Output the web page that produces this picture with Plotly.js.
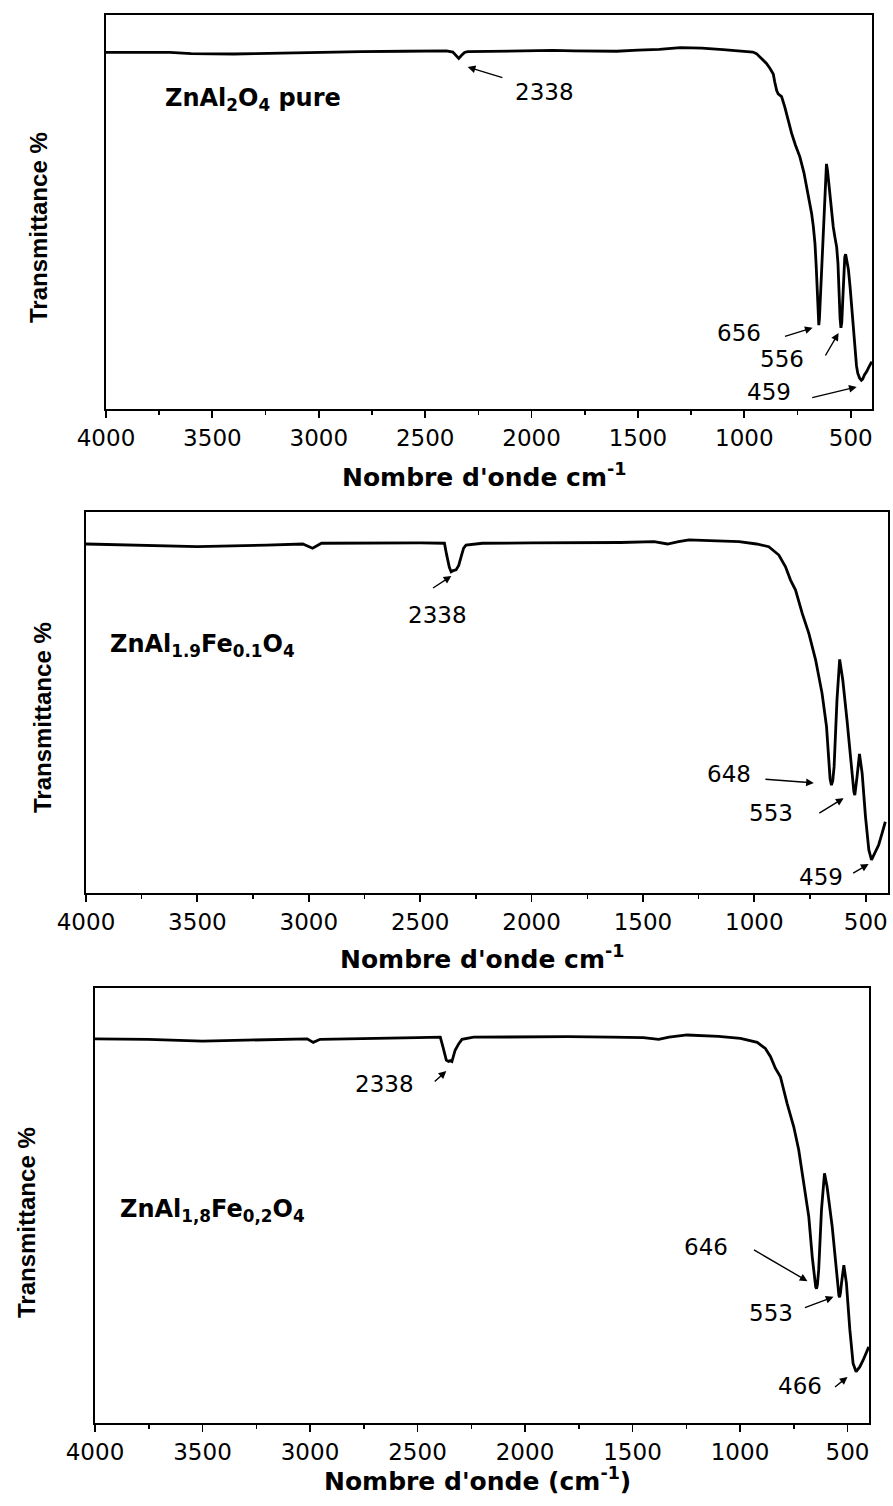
<!DOCTYPE html>
<html>
<head>
<meta charset="utf-8">
<script src="https://cdn.plot.ly/plotly-3.0.1.min.js"></script>
<style>html,body{margin:0;padding:0;background:#fff;}#chart{width:893px;height:1506px;}</style>
</head>
<body>
<div id="chart"></div>
<script>
// ---------- DATA ----------
// Panel 1 : ZnAl2O4 pure
const wn1 = [4000,3850,3700,3600,3500,3400,3300,3150,3000,2800,2600,2450,2400,2370,2355,2342,2330,2315,2300,2200,2100,2000,1900,1800,1700,1600,1500,1400,1300,1200,1100,1000,960,943,920,896,880,864,857,848,841,825,810,795,778,760,739,720,707,695,684,676,668,662,657,653,650,647,643,637,630,624,619,614,609,602,592,582,574,566,560,555,550,546,542,538,533,528,524,519,511,503,495,487,480,473,467,458,450,444,435,425,413,401];
const tr1 = [90.5,90.5,90.5,90.2,90.1,90.1,90.2,90.4,90.6,90.7,90.8,90.9,90.9,90.6,89.8,89.0,89.7,90.5,90.7,90.8,90.9,91.0,91.0,90.9,90.9,90.8,91.1,91.3,91.7,91.6,91.2,90.9,90.6,90.2,89.0,87.7,86.5,85.0,83.0,80.8,80.0,79.3,76.7,73.2,70.0,67.0,64.0,60.0,56.4,53.0,49.7,46.5,42.0,36.0,29.0,23.0,21.3,23.0,28.0,34.0,44.0,54.0,60.0,62.2,60.5,56.3,51.0,46.2,43.5,41.1,37.0,29.0,23.0,20.6,22.0,27.0,34.0,38.5,39.3,38.0,35.5,31.0,25.9,19.5,14.2,11.0,9.1,7.8,7.3,7.6,8.7,9.5,10.8,12.0];

// Panel 2 : ZnAl1.9Fe0.1O4
const wn2 = [4000,3745,3500,3189,3027,2983,2943,2500,2400,2391,2382,2369,2361,2352,2339,2327,2316,2305,2294,2221,2000,1800,1600,1450,1390,1340,1293,1200,1069,990,935,890,860,838,815,785,755,725,696,676,666,660,654,648,642,636,629,617,603,584,569,558,553,549,544,539,528,516,501,486,474,460,442,427,412];
const tr2 = [91.6,91.2,90.9,91.3,91.6,90.5,91.8,91.9,91.9,91.8,89.0,85.5,84.3,84.6,84.8,86.0,88.3,90.5,91.3,91.8,91.9,91.9,92.0,92.2,91.6,92.2,92.7,92.5,92.2,91.6,90.9,88.7,85.6,82.2,79.5,73.4,68.1,61.2,52.4,43.7,34.9,30.0,28.3,29.5,33.1,41.0,50.7,61.3,55.9,45.4,36.7,28.8,26.5,25.7,27.5,30.5,36.5,31.4,20.0,11.3,8.7,10.4,12.6,15.6,18.7];

// Panel 3 : ZnAl1,8Fe0,2O4
const wn3 = [4000,3753,3500,3357,3013,2985,2953,2500,2394,2382,2366,2356,2348,2340,2325,2308,2293,2239,2000,1800,1600,1450,1378,1330,1246,1100,998,920,882,858,835,812,781,750,727,703,680,664,653,648,644,640,634,621,607,595,571,556,545,540,537,533,528,517,505,489,474,466,460,443,427,401];
const tr3 = [88.3,88.2,87.8,87.9,88.3,87.5,88.2,88.6,88.7,86.5,83.4,83.1,83.3,83.1,85.7,87.2,88.2,88.7,88.8,88.8,88.7,88.6,88.2,88.7,89.2,88.9,88.4,87.5,86.1,84.2,81.5,79.6,73.5,68.1,62.8,55.1,47.4,38.2,32.9,31.3,30.9,31.8,35.2,49.0,57.4,54.3,45.1,36.7,30.6,29.3,28.9,29.8,32.1,36.3,32.1,21.4,13.7,12.3,11.8,12.9,14.5,17.5];

const xTickVals = [4000,3500,3000,2500,2000,1500,1000,500];
const xMinorVals = [3750,3250,2750,2250,1750,1250,750];
const sampleNames = ['ZnAl<sub>2</sub>O<sub>4</sub> pure','ZnAl<sub>1.9</sub>Fe<sub>0.1</sub>O<sub>4</sub>','ZnAl<sub>1,8</sub>Fe<sub>0,2</sub>O<sub>4</sub>'];
const xTitles = ["Nombre d'onde cm<sup>-1</sup>","Nombre d'onde cm<sup>-1</sup>","Nombre d'onde (cm<sup>-1</sup>)"];
const yTitle = 'Transmittance %';
const peakLabels1 = ['2338','656','556','459'];
const peakLabels2 = ['2338','648','553','459'];
const peakLabels3 = ['2338','646','553','466'];

// ---------- LAYOUT ----------
const W = 893, H = 1506;
const panels = [
  {x0:106, x1:872, top:15,  bot:409, ytitleX:39, ytitleY:228, xtitleY:476, nameX:163, nameY:100},
  {x0:86,  x1:888, top:512, bot:893, ytitleX:42, ytitleY:718, xtitleY:957, nameX:108, nameY:645},
  {x0:95,  x1:869, top:988, bot:1423,ytitleX:26, ytitleY:1223,xtitleY:1479,nameX:118, nameY:1210}
];
// peak annotation placement (text position, arrow tail, arrow head) in data units
const peakPlacement = [
  [ {t:[1941,80.5], a:[2130,84.0], h:[2300,86.8]},
    {t:[1023,19.3], a:[816,18.3],  h:[679,20.6]},
    {t:[825,12.7],  a:[623,13.2],  h:[557,19.3]},
    {t:[882,4.3],   a:[688,2.8],   h:[472,5.6]} ],
  [ {t:[2423,73.0], a:[2449,79.8], h:[2360,83.2]},
    {t:[1114,31.2], a:[957,29.9],  h:[733,28.9]},
    {t:[926,21.0],  a:[715,20.7],  h:[599,24.9]},
    {t:[702,4.2],   a:[563,5.0],   h:[487,7.6]} ],
  [ {t:[2655,77.9], a:[2427,78.2], h:[2366,80.9]},
    {t:[1156,40.5], a:[942,40.0],  h:[686,32.6]},
    {t:[858,25.3],  a:[705,26.4],  h:[565,29.0]},
    {t:[723,8.5],   a:[565,8.0],   h:[500,10.6]} ]
];
const peakTexts = [peakLabels1, peakLabels2, peakLabels3];
const series = [[wn1,tr1],[wn2,tr2],[wn3,tr3]];

const tickFont = {family:'DejaVu Sans', size:23, color:'#000'};
const data = [];
const layout = {
  width: W, height: H,
  margin: {l:0, r:0, t:0, b:0},
  paper_bgcolor:'#fff', plot_bgcolor:'#fff',
  showlegend:false,
  annotations: []
};

panels.forEach((p, i) => {
  const sfx = i === 0 ? '' : String(i+1);
  const xa = 'x' + sfx, ya = 'y' + sfx;
  data.push({
    x: series[i][0], y: series[i][1],
    xaxis: xa, yaxis: ya,
    type:'scatter', mode:'lines',
    line:{color:'#000', width:2.8},
    hoverinfo:'skip'
  });
  layout['xaxis' + sfx] = {
    domain:[p.x0/W, p.x1/W],
    anchor: ya,
    range:[4000, 400],
    tickvals: xTickVals,
    ticktext: xTickVals.map(String),
    ticks:'outside', ticklen:7, tickwidth:1.8, tickcolor:'#000',
    minor:{tickvals:xMinorVals, ticks:'outside', ticklen:4, tickwidth:1.5, tickcolor:'#000'},
    showline:true, linecolor:'#000', linewidth:2, mirror:true,
    showgrid:false, zeroline:false,
    tickfont: tickFont
  };
  layout['yaxis' + sfx] = {
    domain:[1 - p.bot/H, 1 - p.top/H],
    anchor: xa,
    range:[0, 100],
    showticklabels:false, ticks:'',
    showline:true, linecolor:'#000', linewidth:2, mirror:true,
    showgrid:false, zeroline:false
  };
  // y title
  layout.annotations.push({
    xref:'paper', yref:'paper', x:p.ytitleX/W, y:1 - p.ytitleY/H,
    text:yTitle, textangle:-90, showarrow:false,
    xanchor:'center', yanchor:'middle',
    font:{family:'Liberation Sans', size:24, color:'#000', weight:'bold'}
  });
  // x title
  layout.annotations.push({
    xref:'paper', yref:'paper', x:((p.x0+p.x1)/2 - 5)/W, y:1 - p.xtitleY/H,
    text:'<b>' + xTitles[i] + '</b>', showarrow:false,
    xanchor:'center', yanchor:'middle',
    font:{family:'DejaVu Sans', size:25, color:'#000'}
  });
  // sample name
  layout.annotations.push({
    xref:'paper', yref:'paper', x:p.nameX/W, y:1 - p.nameY/H,
    text:'<b>' + sampleNames[i] + '</b>', showarrow:false,
    xanchor:'left', yanchor:'middle',
    font:{family:'DejaVu Sans', size:24, color:'#000'}
  });
  // peaks
  peakPlacement[i].forEach((pp, k) => {
    layout.annotations.push({
      xref:xa, yref:ya, x:pp.t[0], y:pp.t[1],
      text:peakTexts[i][k], showarrow:false,
      xanchor:'center', yanchor:'middle',
      font:tickFont
    });
    layout.annotations.push({
      xref:xa, yref:ya, x:pp.h[0], y:pp.h[1],
      axref:xa, ayref:ya, ax:pp.a[0], ay:pp.a[1],
      text:'', showarrow:true, arrowhead:2, arrowsize:1.1, arrowwidth:1.4,
      arrowcolor:'#000', standoff:0, startstandoff:0
    });
  });
});

Plotly.newPlot('chart', data, layout, {staticPlot:true, displayModeBar:false});
</script>
</body>
</html>
